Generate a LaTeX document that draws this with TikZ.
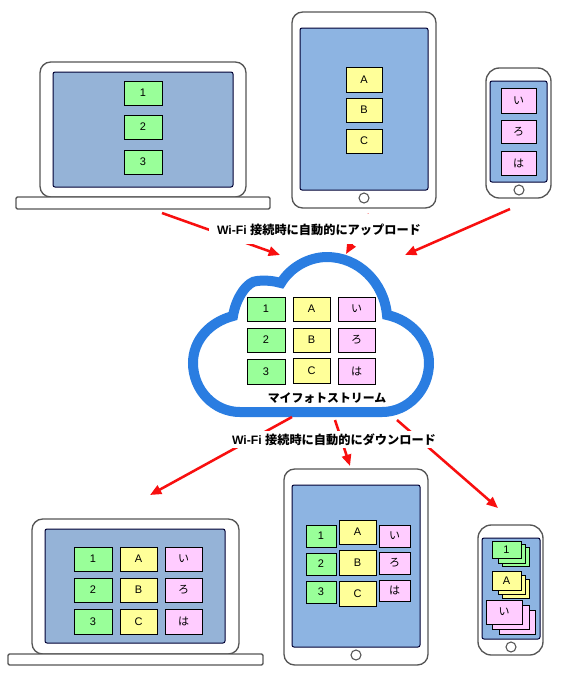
\documentclass[tikz,border=0pt]{standalone}
\usepackage{fontspec}
\setmainfont{Liberation Sans}
\newfontfamily\cjk{Noto Sans CJK JP}
\usetikzlibrary{arrows.meta}
\definecolor{cgreen}{HTML}{99FF99}
\definecolor{cyellow}{HTML}{FFFF99}
\definecolor{cpink}{HTML}{FFCCFF}
\definecolor{scrA}{HTML}{95B3D7}
\definecolor{scrB}{HTML}{8DB4E2}
\definecolor{cloudblue}{HTML}{2A7DE1}
\definecolor{devline}{HTML}{555555}
\definecolor{arrowred}{HTML}{F80F0F}
\tikzset{
  box/.style={draw=black,line width=0.75pt,inner sep=0,outer sep=0,font=\fontsize{8.25}{10}\selectfont},
  gc/.style={box,fill=cgreen},
  yc/.style={box,fill=cyellow},
  pc/.style={box,fill=cpink},
  back/.style={line width=0.5pt},
  device/.style={draw=devline,line width=1pt,fill=white,inner sep=0,outer sep=0,rounded corners=#1},
  screen/.style={draw=black!80!blue,line width=0.75pt,fill=#1,inner sep=0,outer sep=0,rounded corners=1.5pt},
  base/.style={draw=devline,line width=1pt,fill=white,inner sep=0,outer sep=0,rounded corners=1pt},
  homebtn/.style={circle,draw=devline,line width=0.8pt,fill=white,minimum size=7.5pt,inner sep=0},
  flow/.style={draw=arrowred,line width=1.9pt,-{Triangle[length=8.5pt,width=7pt]}},
  lbl/.style={inner sep=0,font=\fontsize{9.15}{11}\selectfont\bfseries},
  caption/.style={inner sep=0,font=\fontsize{8.9}{11}\selectfont\bfseries\cjk},
}
\newcommand\bx[7]{\node[#6,minimum width={(#4-#2)*0.75pt},minimum height={(#5-#3)*0.75pt}] (#1) at ({(#2+#4)/2},{(#3+#5)/2}) {#7};}
\begin{document}
\begin{tikzpicture}[x=0.75pt,y=-0.75pt]
\useasboundingbox[fill=white] (0,0) rectangle (571,683);
% upper laptop
\bx{lapA}{40}{62}{246}{197}{device=8pt}{}
\bx{lapAbase}{16}{197}{270}{209}{base}{}
\bx{lapAscr}{53}{72}{233}{187}{screen=scrA}{}
\bx{a1}{124}{81}{162}{105}{gc}{1}
\bx{a2}{124}{115}{162}{139}{gc}{2}
\bx{a3}{124}{150}{162}{174}{gc}{3}
% upper tablet
\bx{tabA}{292}{12}{436}{208}{device=8pt}{}
\bx{tabAscr}{300}{28}{428}{190}{screen=scrB}{}
\node[homebtn] (tabAhome) at (364,198) {};
\bx{bA}{346}{67}{382}{92}{yc}{A}
\bx{bB}{346}{98}{382}{122}{yc}{B}
\bx{bC}{346}{129}{382}{153}{yc}{C}
% upper phone
\bx{phoA}{486}{68}{551}{198}{device=10pt}{}
\bx{phoAscr}{490}{81}{547}{182}{screen=scrB}{}
\node[homebtn] (phoAhome) at (519,190) {};
\bx{ci}{501}{88}{536}{113}{pc}{\cjk い}
\bx{cro}{501}{120}{536}{143}{pc}{\cjk ろ}
\bx{cha}{501}{151}{536}{175}{pc}{\cjk は}
% cloud
\draw[cloudblue,line width=7.5pt,line join=miter,fill=white] (240,412)
  .. controls (214,412) and (193,390) .. (193,363)
  .. controls (193,340) and (210,322) .. (233,316)
  .. controls (236,297) and (248,281) .. (257,281)
  .. controls (266,280) and (274,281) .. (281,283)
  .. controls (290,268) and (308,257) .. (327,257)
  .. controls (358,257) and (384,282) .. (387,315)
  .. controls (411,320) and (429,340) .. (429,363)
  .. controls (429,390) and (408,412) .. (382,412) -- cycle;
\bx{d1}{247}{297}{285}{321}{gc}{1}
\bx{d2}{247}{328}{285}{352}{gc}{2}
\bx{d3}{247}{359}{285}{384}{gc}{3}
\bx{dA}{293}{297}{330}{321}{yc}{A}
\bx{dB}{293}{328}{330}{352}{yc}{B}
\bx{dC}{293}{358}{330}{383}{yc}{C}
\bx{di}{338}{297}{375}{321}{pc}{\cjk い}
\bx{dro}{338}{328}{375}{352}{pc}{\cjk ろ}
\bx{dha}{338}{358}{375}{384}{pc}{\cjk は}
\node[caption] (cap) at (327,398.5) {マイフォトストリーム};
% lower laptop
\bx{lapB}{32}{519}{239}{654}{device=8pt}{}
\bx{lapBbase}{8}{654}{263}{665}{base}{}
\bx{lapBscr}{45}{529}{225}{643}{screen=scrA}{}
\bx{e1}{74}{547}{112}{571}{gc}{1}
\bx{e2}{74}{578}{112}{602}{gc}{2}
\bx{e3}{74}{609}{112}{634}{gc}{3}
\bx{eA}{120}{547}{157}{571}{yc}{A}
\bx{eB}{120}{578}{157}{602}{yc}{B}
\bx{eC}{120}{609}{157}{634}{yc}{C}
\bx{ei}{165}{547}{202}{571}{pc}{\cjk い}
\bx{ero}{165}{578}{202}{602}{pc}{\cjk ろ}
\bx{eha}{165}{609}{202}{634}{pc}{\cjk は}
% lower tablet
\bx{tabB}{284}{469}{428}{665}{device=8pt}{}
\bx{tabBscr}{292}{485}{420}{647}{screen=scrB}{}
\node[homebtn] (tabBhome) at (356,655) {};
\bx{f1}{306}{525}{336}{547}{gc}{1}
\bx{f2}{306}{553}{336}{575}{gc}{2}
\bx{f3}{306}{581}{336}{603}{gc}{3}
\bx{fA}{339}{520}{376}{544}{yc}{A}
\bx{fB}{339}{550}{376}{575}{yc}{B}
\bx{fC}{339}{581}{376}{606}{yc}{C}
\bx{fi}{379}{525}{410}{547}{pc}{\cjk い}
\bx{fro}{379}{552}{410}{574}{pc}{\cjk ろ}
\bx{fha}{379}{580}{410}{601}{pc}{\cjk は}
% lower phone
\bx{phoB}{478}{525}{543}{655}{device=10pt}{}
\bx{phoBscr}{482}{538}{540}{639}{screen=scrB}{}
\node[homebtn] (phoBhome) at (511,647) {};
\bx{g3}{502}{547}{529}{566}{gc,back}{}
\bx{g2}{498}{544}{525}{563}{gc,back}{}
\bx{g1}{492}{541}{521}{558}{gc}{1}
\bx{h3}{502}{579}{529}{598}{yc,back}{}
\bx{h2}{498}{575}{525}{594}{yc,back}{}
\bx{h1}{492}{571}{521}{590}{yc}{A}
\bx{i3}{499}{610}{535}{634}{pc,back}{}
\bx{i2}{492}{605}{529}{629}{pc,back}{}
\bx{i1}{486}{600}{522}{624}{pc}{\cjk い}
% arrows
\coordinate (u1s) at (162,213); \coordinate (u1e) at (280,255);
\coordinate (u2s) at (369,214); \coordinate (u2e) at (346,254);
\coordinate (u3s) at (510,209); \coordinate (u3e) at (405,255);
\coordinate (l1s) at (292,417); \coordinate (l1e) at (150,495);
\coordinate (l2s) at (335,420); \coordinate (l2e) at (350,466);
\coordinate (l3s) at (397,420); \coordinate (l3e) at (498,508);
\draw[flow] (u1s) -- (u1e);
\draw[flow] (u2s) -- (u2e);
\draw[flow] (u3s) -- (u3e);
\draw[flow] (l1s) -- (l1e);
\draw[flow] (l2s) -- (l2e);
\draw[flow] (l3s) -- (l3e);
% labels
\node[fill=white,inner sep=0,minimum width=162pt,minimum height=22.5pt] (upmask) at (317,229) {};
\node[fill=white,inner sep=0,minimum width=153.75pt,minimum height=12.75pt] (downmask) at (334.5,439.5) {};
\node[lbl] (uplabel) at (319,230) {Wi-Fi {\cjk 接続時に自動的にアップロード}};
\node[lbl] (downlabel) at (334,440) {Wi-Fi {\cjk 接続時に自動的にダウンロード}};
\end{tikzpicture}
\end{document}
